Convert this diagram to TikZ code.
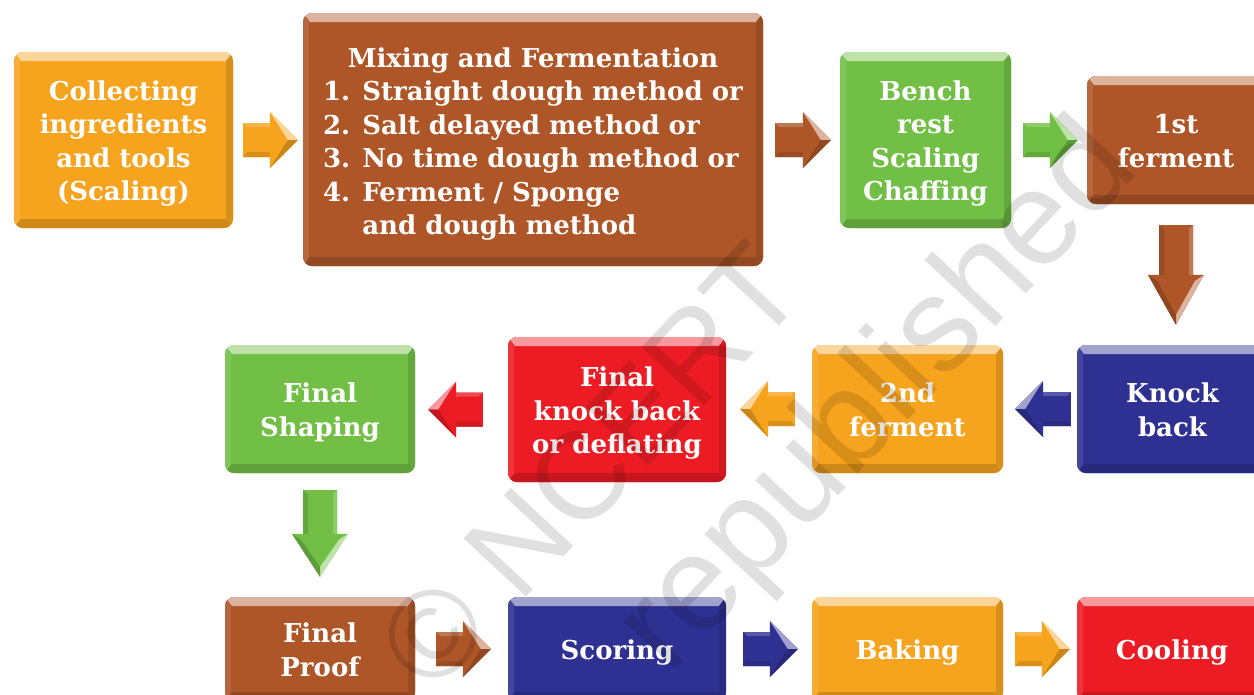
\documentclass[tikz,border=0pt]{standalone}
\usepackage{fontspec}
\setmainfont{DejaVu Serif}
\newfontfamily\wmfont{Liberation Sans}
\usetikzlibrary{calc}
\definecolor{cOr}{HTML}{F6A31E}
\definecolor{cBr}{HTML}{AE5627}
\definecolor{cGr}{HTML}{71BF45}
\definecolor{cBl}{HTML}{2E3192}
\definecolor{cRd}{HTML}{ED1C24}
\tikzset{
  boxtext/.style={text=white,align=center,inner sep=0pt,
    font=\bfseries\fontsize{26}{33.5}\selectfont},
  wmark/.style={rotate=47,opacity=0.12,text=black,inner sep=0pt}
}
% name, x1, y1, x2, y2, colour, text
\newcommand{\bakebox}[7]{%
  \fill[#6,rounded corners=9] (#2,#3) rectangle (#4,#5);
  \begin{scope}
    \clip[rounded corners=9] (#2,#3) rectangle (#4,#5);
    \fill[#6!45!white] (#2,#3) -- (#4,#3) -- (#4-7,#3+9) -- (#2+7,#3+9) -- cycle;
    \fill[#6!88!black] (#4,#3) -- (#4,#5) -- (#4-7,#5-9) -- (#4-7,#3+9) -- cycle;
    \fill[#6!84!black] (#2,#5) -- (#4,#5) -- (#4-7,#5-9) -- (#2+7,#5-9) -- cycle;
    \fill[#6!90!white] (#2,#3) -- (#2+6,#3+9) -- (#2+6,#5-9) -- (#2,#5) -- cycle;
  \end{scope}
  \node[boxtext,minimum width={(#4-#2)*1pt},minimum height={(#5-#3)*1pt}]
    (#1) at ({(#2+#4)/2},{(#3+#5)/2})
    {\raisebox{-4pt}[\height][\depth]{\begin{tabular}{@{}c@{}}#7\end{tabular}}};
}
% tail, tip, colour, side, head length
\newcommand{\blockarrow}[5]{%
  \path let \p1=(#1), \p2=(#2) in \pgfextra{%
    \pgfmathsetmacro\baA{atan2(\y2-\y1,\x2-\x1)}%
    \pgfmathsetmacro\baL{veclen(\x2-\x1,\y2-\y1)}%
    \pgfmathsetmacro\baX{\x1}%
    \pgfmathsetmacro\baY{\y1}%
    \xdef\baA{\baA}\xdef\baL{\baL}\xdef\baX{\baX}\xdef\baY{\baY}};
  \begin{scope}[shift={(\baX pt,\baY pt)},rotate=\baA,yscale=#4]
    \fill[#3] (0pt,-17pt) -- ({\baL pt-#5pt},-17pt) -- ({\baL pt-#5pt},-28pt)
      -- (\baL pt,0pt) -- ({\baL pt-#5pt},28pt) -- ({\baL pt-#5pt},17pt)
      -- (0pt,17pt) -- cycle;
    \fill[#3!45!white] ({\baL pt-#5pt},28pt) -- (\baL pt,0pt)
      -- ({\baL pt-10pt},0pt) -- ({\baL pt-#5pt+6pt},19pt) -- cycle;
    \fill[#3!82!black] ({\baL pt-#5pt},-28pt) -- (\baL pt,0pt)
      -- ({\baL pt-10pt},0pt) -- ({\baL pt-#5pt+6pt},-19pt) -- cycle;
    \fill[#3!80!white] (0pt,17pt) -- ({\baL pt-#5pt},17pt)
      -- ({\baL pt-#5pt},13pt) -- (4pt,13pt) -- cycle;
    \fill[#3!88!black] (0pt,-17pt) -- ({\baL pt-#5pt},-17pt)
      -- ({\baL pt-#5pt},-12pt) -- (4pt,-12pt) -- cycle;
  \end{scope}
}
\begin{document}
\begin{tikzpicture}[x=1pt,y=-1pt]
\useasboundingbox (0,0) rectangle (1254,694);
\clip (0,0) rectangle (1254,694);
\fill[white] (0,0) rectangle (1254,694);

\bakebox{A}{14}{52}{233}{228}{cOr}{Collecting\\ingredients\\and tools\\(Scaling)}
\bakebox{B}{303}{13}{763}{266}{cBr}{\raisebox{-1pt}[\height][\depth]{\begin{tabular}{@{}l@{}}
  \multicolumn{1}{@{}c@{}}{Mixing and Fermentation}\\
  1. Straight dough method or\\
  2. Salt delayed method or\\
  3. No time dough method or\\
  4. Ferment / Sponge\\
  \phantom{4. }and dough method\end{tabular}}}
\bakebox{C}{840}{52}{1011}{228}{cGr}{Bench\\rest\\Scaling\\Chaffing}
\bakebox{D}{1087}{76}{1265}{204}{cBr}{1st\\ferment}
\bakebox{KB}{1077}{345}{1268}{473}{cBl}{Knock\\back}
\bakebox{SF}{812}{345}{1003}{473}{cOr}{2nd\\ferment}
\bakebox{FK}{508}{337}{726}{482}{cRd}{Final\\knock back\\or deflating}
\bakebox{FS}{225}{345}{415}{473}{cGr}{Final\\Shaping}
\bakebox{FP}{225}{597}{415}{701}{cBr}{Final\\Proof}
\bakebox{SC}{508}{597}{726}{701}{cBl}{Scoring}
\bakebox{BK}{812}{597}{1003}{701}{cOr}{Baking}
\bakebox{CL}{1077}{597}{1267}{701}{cRd}{Cooling}

\blockarrow{$(A.east)+(10,0)$}{$(A.east-|B.west)+(-5,0)$}{cOr}{1}{28}
\blockarrow{$(C.west-|B.east)+(12,0)$}{$(C.west)+(-9,0)$}{cBr}{1}{28}
\blockarrow{$(C.east)+(12,0)$}{$(C.east-|D.west)+(-9,0)$}{cGr}{1}{28}
\blockarrow{$(D.south)+(0,21)$}{$(D.south|-KB.north)+(0,-20)$}{cBr}{1}{50}
\blockarrow{$(KB.west)+(-6,0)$}{$(SF.east)+(12,0)$}{cBl}{-1}{28}
\blockarrow{$(SF.west)+(-17,0)$}{$(SF.west-|FK.east)+(14,0)$}{cOr}{-1}{28}
\blockarrow{$(FK.west)+(-25,0)$}{$(FK.west-|FS.east)+(13,0)$}{cRd}{-1}{28}
\blockarrow{$(FS.south)+(0,17)$}{$(FP.north)+(0,-20)$}{cGr}{1}{43}
\blockarrow{$(FP.east)+(21,0)$}{$(SC.west)+(-17,0)$}{cBr}{1}{28}
\blockarrow{$(SC.east)+(17,0)$}{$(BK.west)+(-14,0)$}{cBl}{1}{28}
\blockarrow{$(BK.east)+(12,0)$}{$(CL.west)+(-7,0)$}{cOr}{1}{28}

\node[wmark,font=\wmfont\fontsize{124}{124}\selectfont] (wm1) at (590,466) {© NCERT};
\node[wmark,font=\wmfont\fontsize{134}{134}\selectfont] (wm2) at (880,400) {republished};
\end{tikzpicture}
\end{document}
